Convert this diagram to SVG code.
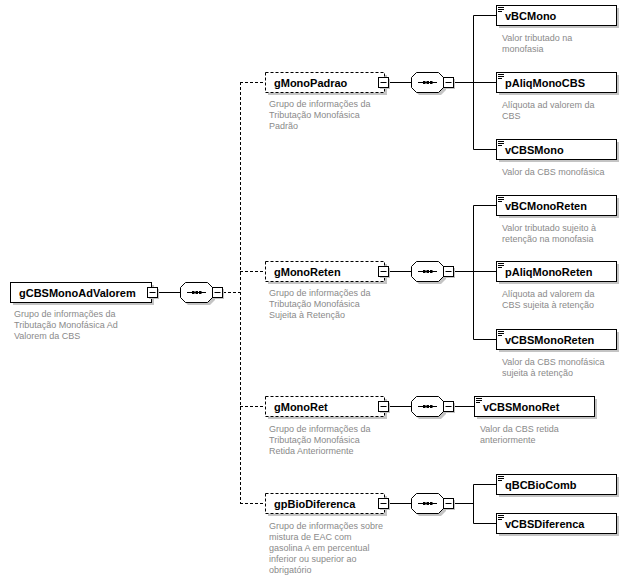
<svg xmlns="http://www.w3.org/2000/svg" width="630" height="584" viewBox="0 0 630 584">
<defs>
<style>
.bg{fill:#ffffff}
.sh{fill:#c4c4c4}
.box{fill:#ffffff;stroke:#000;stroke-width:1}
.opt{fill:#ffffff;stroke:#000;stroke-width:1;stroke-dasharray:3,2}
.lbl{font-family:"Liberation Sans",Arial,sans-serif;font-size:11px;font-weight:bold;fill:#000}
.desc{font-family:"Liberation Sans",Arial,sans-serif;font-size:9px;fill:#8a8a8a}
.ln{stroke:#000;stroke-width:1;fill:none}
.dl{stroke:#000;stroke-width:1;fill:none;stroke-dasharray:3,2}
.ic{stroke:#000;stroke-width:1}
</style>
<g id="minus">
<rect x="2" y="2" width="10" height="10" class="sh"/>
<rect x="0.5" y="0.5" width="10" height="10" class="box"/>
<line x1="2.5" y1="5.5" x2="8.5" y2="5.5" class="ic"/>
</g>
<g id="seq">
<polygon points="8,3 30,3 35,8 35,18 30,23 8,23 3,18 3,8" class="sh"/>
<polygon points="5.5,0.5 27.5,0.5 32.5,5.5 32.5,15.5 27.5,20.5 5.5,20.5 0.5,15.5 0.5,5.5" class="box"/>
<line x1="7" y1="10.5" x2="26" y2="10.5" class="ic"/>
<rect x="12" y="9" width="2.5" height="3" fill="#000"/>
<rect x="15.5" y="9" width="2.5" height="3" fill="#000"/>
<rect x="19" y="9" width="2.5" height="3" fill="#000"/>
</g>
<g id="lic">
<line x1="498" y1="7.5" x2="504" y2="7.5" class="ic"/>
<line x1="498" y1="9.5" x2="504" y2="9.5" class="ic"/>
<line x1="498" y1="11.5" x2="502" y2="11.5" class="ic"/>
</g>
</defs>
<rect width="630" height="584" class="bg"/>

<g id="connectors">
<line x1="157" y1="292.5" x2="180" y2="292.5" class="ln"/>
<line x1="223" y1="292.5" x2="240" y2="292.5" class="dl"/>
<line x1="240.5" y1="82" x2="240.5" y2="503" class="dl"/>
<line x1="240" y1="82.5" x2="265" y2="82.5" class="dl"/>
<line x1="240" y1="271.5" x2="265" y2="271.5" class="dl"/>
<line x1="240" y1="406.5" x2="265" y2="406.5" class="dl"/>
<line x1="240" y1="503.5" x2="265" y2="503.5" class="dl"/>
<line x1="389" y1="82.5" x2="411" y2="82.5" class="ln"/>
<line x1="389" y1="271.5" x2="411" y2="271.5" class="ln"/>
<line x1="389" y1="406.5" x2="411" y2="406.5" class="ln"/>
<line x1="389" y1="503.5" x2="411" y2="503.5" class="ln"/>
<line x1="454" y1="82.5" x2="473" y2="82.5" class="ln"/>
<line x1="454" y1="271.5" x2="473" y2="271.5" class="ln"/>
<line x1="454" y1="406.5" x2="474" y2="406.5" class="ln"/>
<line x1="454" y1="503.5" x2="473" y2="503.5" class="ln"/>
<polyline points="496,15.5 473.5,15.5 473.5,149.5 496,149.5" class="ln"/>
<line x1="473" y1="82.5" x2="496" y2="82.5" class="ln"/>
<polyline points="496,205.5 473.5,205.5 473.5,339.5 496,339.5" class="ln"/>
<line x1="473" y1="271.5" x2="496" y2="271.5" class="ln"/>
<polyline points="496,484.5 473.5,484.5 473.5,523.5 496,523.5" class="ln"/>
</g>

<g id="gCBSMonoAdValorem">
<rect x="13" y="285" width="141" height="20" class="sh"/>
<rect x="10.5" y="282.5" width="141" height="20" class="box"/>
<text x="19" y="296.5" class="lbl">gCBSMonoAdValorem</text>
<use href="#minus" x="147" y="287"/>
<text class="desc"><tspan x="14" y="317">Grupo de informações da</tspan><tspan x="14" y="328">Tributação Monofásica Ad</tspan><tspan x="14" y="339">Valorem da CBS</tspan></text>
</g>
<g id="seq-root"><use href="#seq" x="180" y="282"/><use href="#minus" x="212" y="287"/></g>

<g id="gMonoPadrao">
<rect x="268" y="75" width="119" height="20" class="sh"/>
<rect x="265.5" y="72.5" width="119" height="20" class="opt"/>
<text x="274" y="86.5" class="lbl">gMonoPadrao</text>
<use href="#minus" x="378" y="77"/>
<text class="desc"><tspan x="269" y="107">Grupo de informações da</tspan><tspan x="269" y="118">Tributação Monofásica</tspan><tspan x="269" y="129">Padrão</tspan></text>
</g>
<g id="seq-padrao"><use href="#seq" x="411" y="72"/><use href="#minus" x="443" y="77"/></g>

<g id="gMonoReten">
<rect x="268" y="264" width="119" height="20" class="sh"/>
<rect x="265.5" y="261.5" width="119" height="20" class="opt"/>
<text x="274" y="275.5" class="lbl">gMonoReten</text>
<use href="#minus" x="378" y="266"/>
<text class="desc"><tspan x="269" y="296">Grupo de informações da</tspan><tspan x="269" y="307">Tributação Monofásica</tspan><tspan x="269" y="318">Sujeita à Retenção</tspan></text>
</g>
<g id="seq-reten"><use href="#seq" x="411" y="261"/><use href="#minus" x="443" y="266"/></g>

<g id="gMonoRet">
<rect x="268" y="399" width="119" height="20" class="sh"/>
<rect x="265.5" y="396.5" width="119" height="20" class="opt"/>
<text x="274" y="410.5" class="lbl">gMonoRet</text>
<use href="#minus" x="378" y="401"/>
<text class="desc"><tspan x="269" y="432">Grupo de informações da</tspan><tspan x="269" y="443">Tributação Monofásica</tspan><tspan x="269" y="454">Retida Anteriormente</tspan></text>
</g>
<g id="seq-ret"><use href="#seq" x="411" y="396"/><use href="#minus" x="443" y="401"/></g>

<g id="gpBioDiferenca">
<rect x="268" y="496" width="119" height="20" class="sh"/>
<rect x="265.5" y="493.5" width="119" height="20" class="opt"/>
<text x="274" y="507.5" class="lbl">gpBioDiferenca</text>
<use href="#minus" x="378" y="498"/>
<text class="desc"><tspan x="269" y="529">Grupo de informações sobre</tspan><tspan x="269" y="540">mistura de EAC com</tspan><tspan x="269" y="551">gasolina A em percentual</tspan><tspan x="269" y="562">inferior ou superior ao</tspan><tspan x="269" y="573">obrigatório</tspan></text>
</g>
<g id="seq-bio"><use href="#seq" x="411" y="493"/><use href="#minus" x="443" y="498"/></g>

<g id="vBCMono">
<rect x="499" y="8" width="120" height="20" class="sh"/>
<rect x="496.5" y="5.5" width="120" height="20" class="box"/>
<use href="#lic" x="0" y="0"/>
<text x="505" y="19.5" class="lbl">vBCMono</text>
<text class="desc"><tspan x="502" y="41">Valor tributado na</tspan><tspan x="502" y="52">monofasia</tspan></text>
</g>
<g id="pAliqMonoCBS">
<rect x="499" y="75" width="120" height="20" class="sh"/>
<rect x="496.5" y="72.5" width="120" height="20" class="box"/>
<use href="#lic" x="0" y="67"/>
<text x="505" y="86.5" class="lbl">pAliqMonoCBS</text>
<text class="desc"><tspan x="502" y="108">Alíquota ad valorem da</tspan><tspan x="502" y="119">CBS</tspan></text>
</g>
<g id="vCBSMono">
<rect x="499" y="142" width="120" height="20" class="sh"/>
<rect x="496.5" y="139.5" width="120" height="20" class="box"/>
<use href="#lic" x="0" y="134"/>
<text x="505" y="153.5" class="lbl">vCBSMono</text>
<text class="desc"><tspan x="502" y="175">Valor da CBS monofásica</tspan></text>
</g>
<g id="vBCMonoReten">
<rect x="499" y="198" width="120" height="20" class="sh"/>
<rect x="496.5" y="195.5" width="120" height="20" class="box"/>
<use href="#lic" x="0" y="190"/>
<text x="505" y="209.5" class="lbl">vBCMonoReten</text>
<text class="desc"><tspan x="502" y="231">Valor tributado sujeito à</tspan><tspan x="502" y="242">retenção na monofasia</tspan></text>
</g>
<g id="pAliqMonoReten">
<rect x="499" y="264" width="120" height="20" class="sh"/>
<rect x="496.5" y="261.5" width="120" height="20" class="box"/>
<use href="#lic" x="0" y="256"/>
<text x="505" y="275.5" class="lbl">pAliqMonoReten</text>
<text class="desc"><tspan x="502" y="297">Alíquota ad valorem da</tspan><tspan x="502" y="308">CBS sujeita à retenção</tspan></text>
</g>
<g id="vCBSMonoReten">
<rect x="499" y="332" width="120" height="20" class="sh"/>
<rect x="496.5" y="329.5" width="120" height="20" class="box"/>
<use href="#lic" x="0" y="324"/>
<text x="505" y="343.5" class="lbl">vCBSMonoReten</text>
<text class="desc"><tspan x="502" y="365">Valor da CBS monofásica</tspan><tspan x="502" y="376">sujeita à retenção</tspan></text>
</g>
<g id="vCBSMonoRet">
<rect x="477" y="399" width="120" height="20" class="sh"/>
<rect x="474.5" y="396.5" width="120" height="20" class="box"/>
<use href="#lic" x="-22" y="391"/>
<text x="483" y="410.5" class="lbl">vCBSMonoRet</text>
<text class="desc"><tspan x="480" y="432">Valor da CBS retida</tspan><tspan x="480" y="443">anteriormente</tspan></text>
</g>
<g id="qBCBioComb">
<rect x="499" y="477" width="120" height="20" class="sh"/>
<rect x="496.5" y="474.5" width="120" height="20" class="box"/>
<use href="#lic" x="0" y="469"/>
<text x="505" y="488.5" class="lbl">qBCBioComb</text>
</g>
<g id="vCBSDiferenca">
<rect x="499" y="516" width="120" height="20" class="sh"/>
<rect x="496.5" y="513.5" width="120" height="20" class="box"/>
<use href="#lic" x="0" y="508"/>
<text x="505" y="527.5" class="lbl">vCBSDiferenca</text>
</g>
</svg>
